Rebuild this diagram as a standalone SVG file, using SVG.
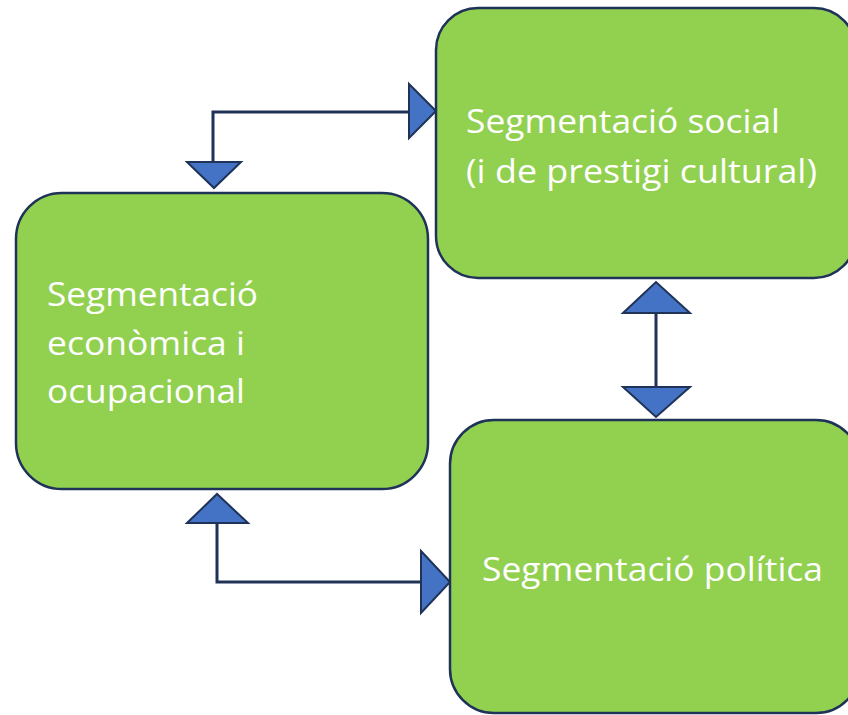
<svg xmlns="http://www.w3.org/2000/svg" width="848" height="715" viewBox="0 0 848 715">
<style>
.box{fill:#92D050;stroke:#1F3257;stroke-width:2.5}
.lbl{font-family:"Open Sans","Noto Sans","Liberation Sans",sans-serif;font-size:32px;fill:#FFFFFF}
.ln{fill:none;stroke:#1F3257;stroke-width:3}
.ah{fill:#4472C4;stroke:#1F3257;stroke-width:2;stroke-linejoin:miter}
</style>
<rect width="848" height="715" fill="#FFFFFF"/>
<g id="connectors">
<polyline class="ln" points="213,164 213,112 410,112"/>
<polygon class="ah" points="409,84 436,111 409,138"/>
<polygon class="ah" points="187,162 241,162 214,188"/>
<line class="ln" x1="656" y1="312" x2="656" y2="388"/>
<polygon class="ah" points="623,313 656,282 690,313"/>
<polygon class="ah" points="623,387 690,387 656,417"/>
<polyline class="ln" points="217,522 217,582 422,582"/>
<polygon class="ah" points="187,523 217,494 248,523"/>
<polygon class="ah" points="421,551 450,582 421,613"/>
</g>
<g id="node-social">
<rect class="box" x="436" y="8" width="420" height="270" rx="42" ry="42"/>
<text class="lbl" x="466" y="133" textLength="314" lengthAdjust="spacingAndGlyphs">Segmentació social</text>
<text class="lbl" x="466" y="183" textLength="351" lengthAdjust="spacingAndGlyphs">(i de prestigi cultural)</text>
</g>
<g id="node-economica">
<rect class="box" x="16" y="193" width="412" height="296" rx="46" ry="46"/>
<text class="lbl" x="47" y="306" textLength="211" lengthAdjust="spacingAndGlyphs">Segmentació</text>
<text class="lbl" x="47" y="355" textLength="198" lengthAdjust="spacingAndGlyphs">econòmica i</text>
<text class="lbl" x="47" y="403" textLength="198" lengthAdjust="spacingAndGlyphs">ocupacional</text>
</g>
<g id="node-politica">
<rect class="box" x="450" y="420" width="410" height="293" rx="44" ry="44"/>
<text class="lbl" x="482" y="581" textLength="341" lengthAdjust="spacingAndGlyphs">Segmentació política</text>
</g>
</svg>
